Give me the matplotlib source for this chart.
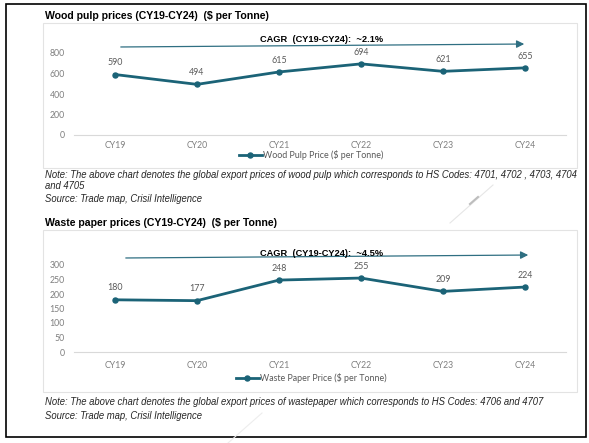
import matplotlib.pyplot as plt
from matplotlib.patches import Rectangle, FancyArrowPatch

# dados
anos = ["CY19", "CY20", "CY21", "CY22", "CY23", "CY24"]
polpa = [590, 494, 615, 694, 621, 655]
aparas = [180, 177, 248, 255, 209, 224]

titulo1 = "Wood pulp prices (CY19-CY24)  ($ per Tonne)"
titulo2 = "Waste paper prices (CY19-CY24)  ($ per Tonne)"
cagr1 = "CAGR  (CY19-CY24):  ~2.1%"
cagr2 = "CAGR  (CY19-CY24):  ~4.5%"
legenda1 = "Wood Pulp Price ($ per Tonne)"
legenda2 = "Waste Paper Price ($ per Tonne)"
nota1 = ("Note: The above chart denotes the global export prices of wood pulp which corresponds to HS Codes: 4701, 4702 , 4703, 4704",
         "and 4705")
nota2 = "Note: The above chart denotes the global export prices of wastepaper which corresponds to HS Codes: 4706 and 4707"
fonte = "Source: Trade map, Crisil Intelligence"

W, H = 589, 443
cor = "#1b6377"
cinza = "#7f7f7f"
f_num = "Lato"
f_txt = "Liberation Sans"

def ret(x0, y0, x1, y1):
    return [x0 / W, 1 - y1 / H, (x1 - x0) / W, (y1 - y0) / H]

fig = plt.figure(figsize=(W / 100, H / 100), dpi=100)

# camada de fundo em pixels
bg = fig.add_axes([0, 0, 1, 1])
bg.set_xlim(0, W)
bg.set_ylim(H, 0)
bg.axis("off")

bg.add_patch(Rectangle((6, 4), 580, 433, fill=False, ec="black", lw=1.2))
bg.add_patch(Rectangle((43, 23), 534, 145, fill=False, ec="#e3e3e3", lw=0.8))
bg.add_patch(Rectangle((43, 230), 534, 162, fill=False, ec="#e3e3e3", lw=0.8))

# riscos fracos do scan
bg.plot([450, 493], [223, 185], color="#e6e6e6", lw=0.8)
bg.plot([470, 478], [204, 197], color="#bdbdbd", lw=1.5)
bg.plot([228, 262], [443, 413], color="#ededed", lw=0.8)

bg.text(45, 16, titulo1, family=f_txt, weight="bold", fontsize=7.6, va="center")
bg.text(45, 223, titulo2, family=f_txt, weight="bold", fontsize=7.6, va="center")

tam_nota = 6.85
bg.text(45, 175, nota1[0], family=f_txt, style="italic", fontsize=tam_nota, va="center", color="#262626")
bg.text(45, 186, nota1[1], family=f_txt, style="italic", fontsize=tam_nota, va="center", color="#262626")
bg.text(45, 199, fonte, family=f_txt, style="italic", fontsize=tam_nota, va="center", color="#262626")
bg.text(45, 402, nota2, family=f_txt, style="italic", fontsize=tam_nota, va="center", color="#262626")
bg.text(45, 416, fonte, family=f_txt, style="italic", fontsize=tam_nota, va="center", color="#262626")

# setas CAGR
for (x0, y0, x1, y1), txt, ty in [((118, 47, 527, 44), cagr1, 39), ((123, 258, 531, 255), cagr2, 253)]:
    bg.add_patch(FancyArrowPatch((x0, y0), (x1, y1), arrowstyle="-|>,head_length=3,head_width=1.5",
                                 color="#2f6f82", lw=0.9, mutation_scale=1.5))
    bg.text(322, ty, txt, family=f_txt, weight="bold", fontsize=6.7, ha="center", va="center")


def grafico(caixa, valores, ylim, passo, legenda, leg_y, pad_x):
    ax = fig.add_axes(ret(*caixa))
    ax.patch.set_alpha(0)
    ax.plot(range(len(anos)), valores, color=cor, lw=2.0, marker="o", ms=3.6, label=legenda)
    for i, v in enumerate(valores):
        ax.annotate(str(v), (i, v), xytext=(0, 8.5), textcoords="offset points", ha="center",
                    va="center", family=f_num, fontsize=6.4, color="#595959")
    ax.set_xlim(-0.5, len(anos) - 0.5)
    ax.set_ylim(0, ylim)
    ax.set_yticks(range(0, ylim + 1, passo))
    ax.set_xticks(range(len(anos)))
    ax.set_xticklabels(anos)
    for s in ["top", "right", "left"]:
        ax.spines[s].set_visible(False)
    ax.spines["bottom"].set_color("#d9d9d9")
    ax.spines["bottom"].set_linewidth(0.8)
    ax.tick_params(length=0, labelsize=6.3, labelcolor=cinza)
    ax.tick_params(axis="y", pad=6.5)
    ax.tick_params(axis="x", pad=pad_x)
    for t in ax.get_xticklabels() + ax.get_yticklabels():
        t.set_family(f_num)
    ax.legend(loc="center", bbox_to_anchor=(311 / W, 1 - leg_y / H), bbox_transform=fig.transFigure,
              frameon=False, prop={"family": f_num, "size": 6.4}, handlelength=2.6, handletextpad=0.1,
              labelcolor="#595959", borderpad=0)
    return ax


grafico((74, 53, 566, 135), polpa, 800, 200, legenda1, 155, 4.5)
grafico((74, 265, 566, 352), aparas, 300, 50, legenda2, 378, 6.5)

plt.savefig("out.png", dpi=100)
